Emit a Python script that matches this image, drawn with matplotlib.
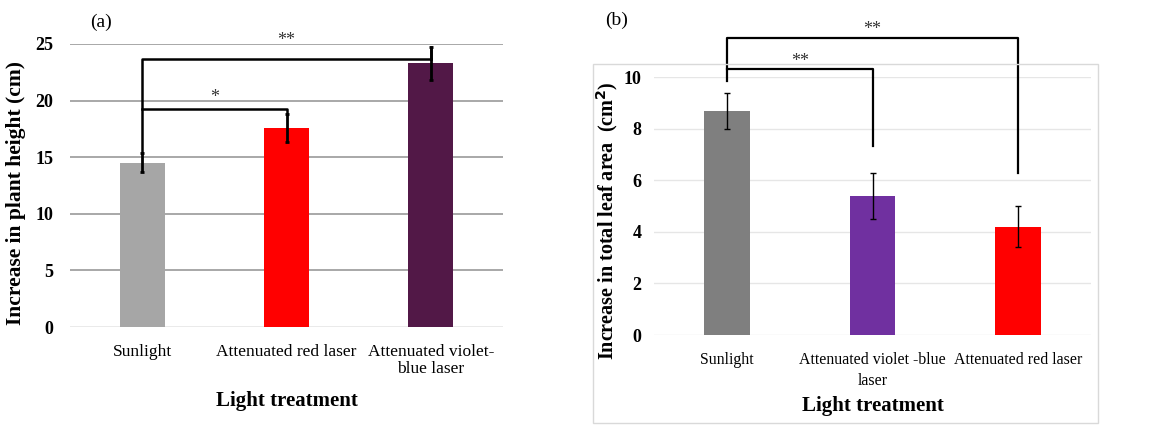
import matplotlib
matplotlib.use("Agg")
import matplotlib.pyplot as plt
from matplotlib.patches import Rectangle

plt.rcParams['font.family'] = ['Liberation Serif', 'DejaVu Serif']

# Panel (a) data
cats_a = ["Sunlight", "Attenuated red laser", "Attenuated violet-\nblue laser"]
vals_a = [14.5, 17.6, 23.3]
errs_a = [0.85, 1.25, 1.45]
cols_a = ["#a6a6a6", "#ff0000", "#521847"]
yticks_a = [0, 5, 10, 15, 20, 25]

# Panel (b) data
cats_b = ["Sunlight", "Attenuated violet -blue\nlaser", "Attenuated red laser"]
vals_b = [8.7, 5.4, 4.2]
errs_b = [0.7, 0.9, 0.8]
cols_b = ["#7f7f7f", "#7030a0", "#ff0000"]
yticks_b = [0, 2, 4, 6, 8, 10]

fig = plt.figure(figsize=(11.75, 4.33), dpi=100)

# ---------- Panel (a) ----------
axa = fig.add_axes([70/1175, 1-327/433, 433/1175, 283/433])
xa = range(len(cats_a))
axa.bar(xa, vals_a, width=0.31, color=cols_a, zorder=3)
axa.errorbar(xa, vals_a, yerr=errs_a, fmt='none', ecolor='black', elinewidth=2,
             capsize=1.5, capthick=2, zorder=4)
axa.set_xlim(-0.5, 2.5)
axa.set_ylim(0, 25)
axa.set_yticks(yticks_a)
axa.set_yticklabels([str(t) for t in yticks_a], fontweight='bold', fontsize=13)
axa.set_xticks(list(xa))
axa.set_xticklabels(cats_a, fontsize=12.5, linespacing=1.15)
axa.tick_params(axis='both', length=0)
axa.tick_params(axis='y', pad=12)
axa.tick_params(axis='x', pad=12)
for s in axa.spines.values():
    s.set_visible(False)
for t in yticks_a[1:]:
    axa.axhline(t, color='#9a9a9a', lw=1.2, zorder=1)
axa.axhline(0, color='#e6e6e6', lw=1.2, zorder=1)
axa.set_ylabel("Increase in plant height (cm)", fontweight='bold', fontsize=15.5)
axa.yaxis.set_label_coords(-0.1016, 0.473)
axa.set_xlabel("Light treatment", fontweight='bold', fontsize=15, labelpad=10)

# significance brackets (a)
axa.plot([0, 0, 2], [vals_a[0]+errs_a[0], 23.7, 23.7], color='black', lw=1.8,
         zorder=5, clip_on=False)
axa.plot([2, 2], [23.7, vals_a[2]+errs_a[2]], color='black', lw=1.8, zorder=5, clip_on=False)
axa.plot([0, 1, 1], [19.3, 19.3, vals_a[1]+errs_a[1]], color='black', lw=1.8,
         zorder=5, clip_on=False)
axa.text(1.0, 25.3, "**", ha='center', va='center', fontsize=13, color='#333333')
axa.text(0.5, 20.3, "*", ha='center', va='center', fontsize=13, color='#333333')
fig.text(101/1175, 1-22/433, "(a)", ha='center', va='center', fontsize=14)

# ---------- Panel (b) ----------
fig.patches.append(Rectangle((593/1175, 1-423/433), 505/1175, 359/433,
                             transform=fig.transFigure, fill=False,
                             edgecolor='#d9d9d9', lw=1))
axb = fig.add_axes([654/1175, 1-335/433, 437/1175, 257.7/433])
xb = range(len(cats_b))
axb.bar(xb, vals_b, width=0.315, color=cols_b, zorder=3)
axb.errorbar(xb, vals_b, yerr=errs_b, fmt='none', ecolor='black', elinewidth=1,
             capsize=2, capthick=1, zorder=4)
axb.set_xlim(-0.5, 2.5)
axb.set_ylim(0, 10)
axb.set_yticks(yticks_b)
axb.set_yticklabels([str(t) for t in yticks_b], fontweight='bold', fontsize=13)
axb.set_xticks(list(xb))
axb.set_xticklabels(cats_b, fontsize=11.4, linespacing=1.45)
axb.tick_params(axis='both', length=0)
axb.tick_params(axis='y', pad=9)
axb.tick_params(axis='x', pad=12)
for s in axb.spines.values():
    s.set_visible(False)
for t in yticks_b:
    axb.axhline(t, color='#e6e6e6', lw=1, zorder=1)
axb.set_ylabel("Increase in total leaf area  (cm$^{\\mathbf{2}}$)", fontweight='bold',
               fontsize=14.5)
axb.yaxis.set_label_coords(-0.078, 0.442)
axb.set_xlabel("Light treatment", fontweight='bold', fontsize=15, labelpad=5)

# significance brackets (b)
axb.plot([0, 0, 2, 2], [9.87, 11.54, 11.54, 6.27], color='black', lw=1.6,
         zorder=5, clip_on=False)
axb.plot([0, 1, 1], [10.31, 10.31, 7.35], color='black', lw=1.6, zorder=5, clip_on=False)
axb.text(1.0, 11.85, "**", ha='center', va='center', fontsize=13, color='#333333')
axb.text(0.5, 10.6, "**", ha='center', va='center', fontsize=13, color='#333333')
fig.text(617/1175, 1-20/433, "(b)", ha='center', va='center', fontsize=14)

fig.savefig("out.png", dpi=100, facecolor='white')
